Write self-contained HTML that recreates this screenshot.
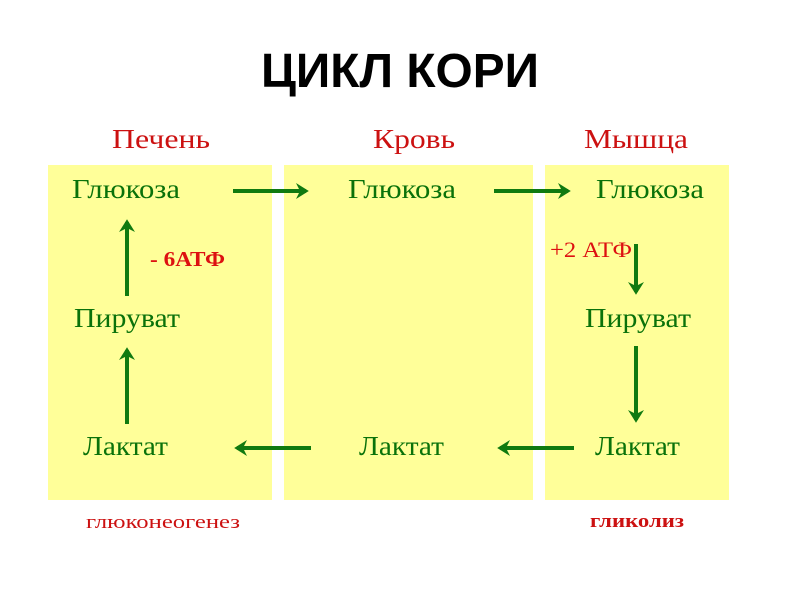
<!DOCTYPE html>
<html><head><meta charset="utf-8"><style>html,body{margin:0;padding:0;background:#fff}svg{display:block}</style></head>
<body>
<svg width="800" height="600" viewBox="0 0 800 600" xmlns="http://www.w3.org/2000/svg">
<defs>
<marker id="a" markerWidth="4" markerHeight="4" refX="2.5" refY="2" orient="auto" markerUnits="strokeWidth"><path d="M0,0 L3.2,2 L0,4 L1,2 Z" fill="#107a10"/></marker>
</defs>
<text x="400" y="87" text-anchor="middle" font-family="Liberation Sans, sans-serif" font-weight="bold" font-size="48" fill="#000" textLength="278" lengthAdjust="spacingAndGlyphs">ЦИКЛ КОРИ</text>
<rect x="48" y="165" width="224" height="335" fill="#ffff99"/>
<rect x="284" y="165" width="249" height="335" fill="#ffff99"/>
<rect x="545" y="165" width="184" height="335" fill="#ffff99"/>
<g font-family="Liberation Serif, serif" font-size="27" fill="#cc1111" lengthAdjust="spacingAndGlyphs">
<text x="112" y="148" textLength="98" lengthAdjust="spacingAndGlyphs">Печень</text>
<text x="373" y="148" textLength="82" lengthAdjust="spacingAndGlyphs">Кровь</text>
<text x="584" y="148" textLength="104" lengthAdjust="spacingAndGlyphs">Мышца</text>
</g>
<g font-family="Liberation Serif, serif" font-size="27" fill="#0a720a">
<text x="72" y="198" textLength="108" lengthAdjust="spacingAndGlyphs">Глюкоза</text>
<text x="348" y="198" textLength="108" lengthAdjust="spacingAndGlyphs">Глюкоза</text>
<text x="596" y="198" textLength="108" lengthAdjust="spacingAndGlyphs">Глюкоза</text>
<text x="74" y="327" textLength="106" lengthAdjust="spacingAndGlyphs">Пируват</text>
<text x="585" y="327" textLength="106" lengthAdjust="spacingAndGlyphs">Пируват</text>
<text x="83" y="455" textLength="85" lengthAdjust="spacingAndGlyphs">Лактат</text>
<text x="359" y="455" textLength="85" lengthAdjust="spacingAndGlyphs">Лактат</text>
<text x="595" y="455" textLength="85" lengthAdjust="spacingAndGlyphs">Лактат</text>
</g>
<g stroke="#107a10" stroke-width="4" fill="none" marker-end="url(#a)">
<line x1="233" y1="191" x2="306" y2="191"/>
<line x1="494" y1="191" x2="568" y2="191"/>
<line x1="127" y1="296" x2="127" y2="222"/>
<line x1="127" y1="424" x2="127" y2="350"/>
<line x1="636" y1="244" x2="636" y2="292"/>
<line x1="636" y1="346" x2="636" y2="420"/>
<line x1="311" y1="448" x2="237" y2="448"/>
<line x1="574" y1="448" x2="500" y2="448"/>
</g>
<text x="150" y="266" font-family="Liberation Serif, serif" font-weight="bold" font-size="21" fill="#dd1111" textLength="75" lengthAdjust="spacingAndGlyphs">- 6АТФ</text>
<text x="550" y="257" font-family="Liberation Serif, serif" font-size="22" fill="#dd1111" textLength="82" lengthAdjust="spacingAndGlyphs">+2 АТФ</text>
<text x="86" y="528" font-family="Liberation Serif, serif" font-size="19" fill="#cc1111" textLength="154" lengthAdjust="spacingAndGlyphs">глюконеогенез</text>
<text x="590" y="527" font-family="Liberation Serif, serif" font-weight="bold" font-size="19" fill="#cc1111" textLength="94" lengthAdjust="spacingAndGlyphs">гликолиз</text>
</svg>
</body></html>
